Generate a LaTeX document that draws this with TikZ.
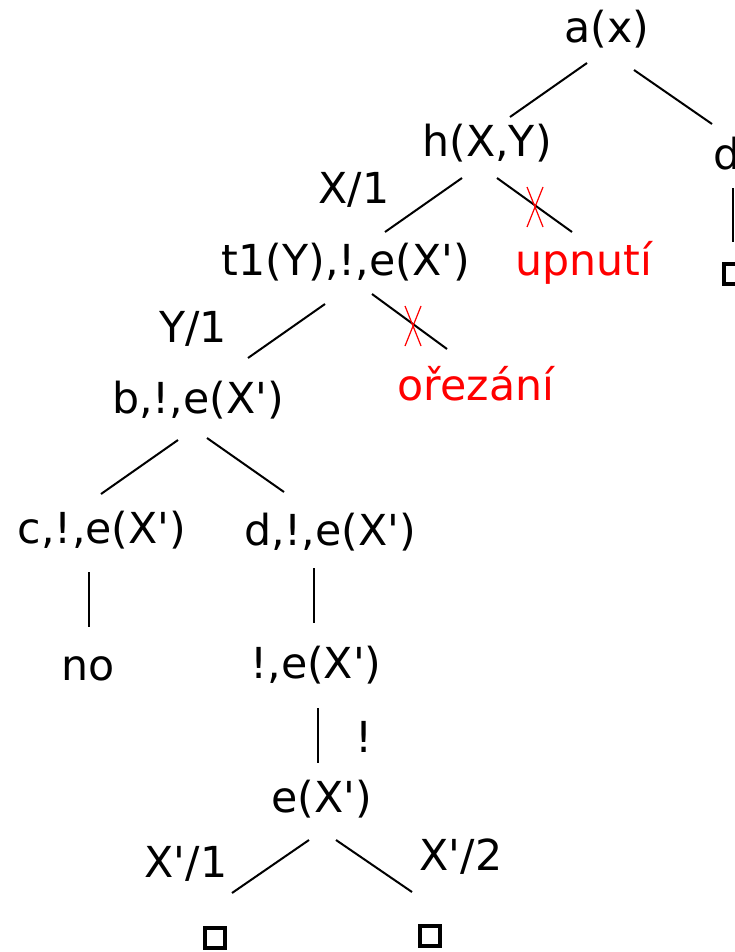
\documentclass[tikz,border=0pt]{standalone}
\usepackage{fontspec}
\setmainfont[Ligatures=TeXOff]{DejaVu Sans}
\begin{document}
\begin{tikzpicture}[x=1pt,y=-1pt,
  lbl/.style={inner sep=0pt,anchor=base,font=\fontsize{42.7}{50}\selectfont},
  cut/.style={lbl,text=red},
  edge/.style={line width=2pt},
  prune/.style={red,line width=1.2pt},
  leaf/.style={draw,line width=4pt,minimum size=20pt,inner sep=0pt}]
\useasboundingbox (0,0) rectangle (735,952);
\clip (0,0) rectangle (735,952);
% nodes
\node[lbl] (a) at (607,43) {a(x)};
\node[lbl] (h) at (487,157) {h(X,Y)};
\node[lbl,anchor=base west] (d0) at (713,170) {d};
\node[leaf] (sq0) at (734,274) {};
\node[lbl] (x1) at (354,203) {X/1};
\node[lbl] (t1) at (346,275) {t1(Y),!,e(X')};
\node[cut] (up) at (584,275) {upnutí};
\node[lbl] (y1) at (193,342) {Y/1};
\node[lbl] (b) at (198,413) {b,!,e(X')};
\node[cut] (or) at (476,400) {ořezání};
\node[lbl] (c) at (102,543) {c,!,e(X')};
\node[lbl] (d) at (330,545) {d,!,e(X')};
\node[lbl] (no) at (88,680) {no};
\node[lbl] (ex) at (316,678) {!,e(X')};
\node[lbl] (bang) at (364,752) {!};
\node[lbl] (e) at (322,812) {e(X')};
\node[lbl] (xp1) at (186,877) {X'/1};
\node[lbl] (xp2) at (461,870) {X'/2};
\node[leaf] (sq1) at (215,938) {};
\node[leaf] (sq2) at (430,936) {};
% connector end points
\coordinate (a1) at (587,63);  \coordinate (h1) at (510,117);
\coordinate (a2) at (634,70);  \coordinate (d1) at (712,124);
\coordinate (d2) at (733,188); \coordinate (s0) at (733,242);
\coordinate (h2) at (462,178); \coordinate (t2) at (385,232);
\coordinate (h3) at (497,178); \coordinate (u1) at (572,232);
\coordinate (t3) at (325,304); \coordinate (b1) at (248,358);
\coordinate (t4) at (372,294); \coordinate (o1) at (447,349);
\coordinate (b2) at (178,440); \coordinate (c1) at (101,494);
\coordinate (b3) at (207,438); \coordinate (dd1) at (284,492);
\coordinate (c2) at (89,572);  \coordinate (n1) at (89,627);
\coordinate (dd2) at (314,568); \coordinate (ex1) at (314,623);
\coordinate (ex2) at (318,708); \coordinate (e1) at (318,763);
\coordinate (e2) at (309,840); \coordinate (s1) at (232,893);
\coordinate (e3) at (336,840); \coordinate (s2) at (412,892);
% connectors
\draw[edge] (a1) -- (h1);
\draw[edge] (a2) -- (d1);
\draw[edge] (d2) -- (s0);
\draw[edge] (h2) -- (t2);
\draw[edge] (h3) -- (u1);
\draw[edge] (t3) -- (b1);
\draw[edge] (t4) -- (o1);
\draw[edge] (b2) -- (c1);
\draw[edge] (b3) -- (dd1);
\draw[edge] (c2) -- (n1);
\draw[edge] (dd2) -- (ex1);
\draw[edge] (ex2) -- (e1);
\draw[edge] (e2) -- (s1);
\draw[edge] (e3) -- (s2);
% pruning marks
\draw[prune] (527,187) -- (543,227) (543,187) -- (527,227);
\draw[prune] (405,306) -- (421,346) (421,306) -- (405,346);
\end{tikzpicture}
\end{document}
